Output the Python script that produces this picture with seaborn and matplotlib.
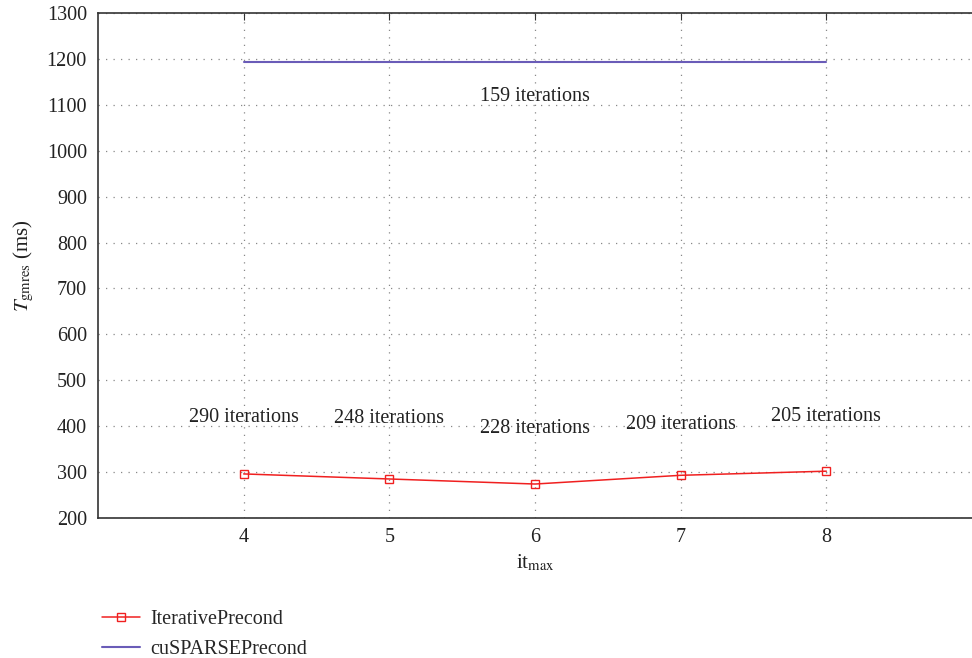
import matplotlib
matplotlib.use("Agg")
import matplotlib.pyplot as plt
import seaborn as sns
import pandas as pd

it_max = [4, 5, 6, 7, 8]
iterative_ms = [296, 285, 274, 293, 302]
cusparse_ms = [1194, 1194, 1194, 1194, 1194]
iter_labels = ["290 iterations", "248 iterations", "228 iterations", "209 iterations", "205 iterations"]
iter_label_y = [420, 416, 396, 403, 422]
cusparse_label = "159 iterations"
cusparse_label_pos = (6, 1119)

sns.set_style("white")
plt.rcParams['font.family'] = ['Liberation Serif', 'DejaVu Serif']
plt.rcParams['mathtext.fontset'] = 'stix'

df = pd.DataFrame({
    "it": it_max * 2,
    "ms": iterative_ms + cusparse_ms,
    "series": ["IterativePrecond"] * 5 + ["cuSPARSEPrecond"] * 5,
})

fig = plt.figure(figsize=(9.72, 6.58), dpi=100)
ax = fig.add_axes([98/972, 1 - 518/658, 1 - 98/972, (518 - 13)/658])

sns.lineplot(data=df[df.series == "IterativePrecond"], x="it", y="ms", ax=ax,
             color="#f02020", marker="s", markersize=6, markerfacecolor="none",
             markeredgecolor="#f02020", markeredgewidth=1.0, linewidth=1.1,
             label="IterativePrecond")
sns.lineplot(data=df[df.series == "cuSPARSEPrecond"], x="it", y="ms", ax=ax,
             color="#6a5cb8", linewidth=1.5, label="cuSPARSEPrecond")

for x, y, t in zip(it_max, iter_label_y, iter_labels):
    ax.text(x, y, t, ha="center", va="center", fontsize=14.5, color="#222222")
ax.text(cusparse_label_pos[0], cusparse_label_pos[1], cusparse_label, ha="center",
        va="center", fontsize=14.5, color="#222222")

ax.set_xlim(3, 9)
ax.set_ylim(200, 1300)
ax.set_xticks(it_max)
ax.set_yticks(range(200, 1301, 100))
ax.tick_params(direction="in", top=True, labelsize=14.5, length=5, colors="#333333",
               labelcolor="#222222")
ax.tick_params(axis="y", pad=8)
ax.tick_params(axis="x", pad=7)
ax.grid(True, linestyle=(0, (1, 5)), color="#888888", linewidth=0.9)
for s in ax.spines.values():
    s.set_color("#333333")
    s.set_linewidth(1.2)
ax.spines["right"].set_visible(False)

ax.set_xlabel("it$_{\\rm max}$", fontsize=15, color="#222222", labelpad=4)
ax.set_ylabel("$T_{\\rm gmres}$ (ms)", fontsize=15, color="#222222", labelpad=8)

ax.legend_.remove()
handles, labels = ax.get_legend_handles_labels()
fig.legend(handles, labels, loc="upper left", bbox_to_anchor=(84/972, 1 - 592/658),
           frameon=False, fontsize=14.5, handlelength=1.9, labelspacing=0.55,
           handletextpad=0.5)

fig.savefig("out.png", dpi=100)
